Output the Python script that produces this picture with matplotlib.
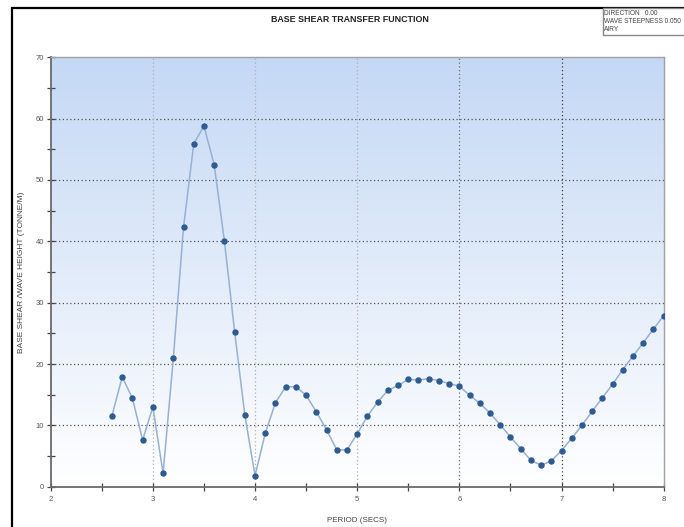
import numpy as np
import matplotlib
matplotlib.use("Agg")
import matplotlib.pyplot as plt
from matplotlib import font_manager
from matplotlib.patches import Rectangle
from matplotlib.colors import LinearSegmentedColormap

# ---- data ----
period = [2.6, 2.7, 2.8, 2.9, 3.0, 3.1, 3.2, 3.3, 3.4, 3.5, 3.6, 3.7, 3.8, 3.9,
          4.0, 4.1, 4.2, 4.3, 4.4, 4.5, 4.6, 4.7, 4.8, 4.9, 5.0, 5.1, 5.2, 5.3,
          5.4, 5.5, 5.6, 5.7, 5.8, 5.9, 6.0, 6.1, 6.2, 6.3, 6.4, 6.5, 6.6, 6.7,
          6.8, 6.9, 7.0, 7.1, 7.2, 7.3, 7.4, 7.5, 7.6, 7.7, 7.8, 7.9, 8.0]
base_shear = [11.6, 17.9, 14.4, 7.6, 13.0, 2.2, 20.9, 42.3, 55.9, 58.8, 52.5, 40.1,
              25.3, 11.7, 1.8, 8.7, 13.7, 16.3, 16.3, 14.9, 12.2, 9.3, 6.0, 6.0,
              8.6, 11.5, 13.8, 15.7, 16.5, 17.5, 17.4, 17.6, 17.3, 16.8, 16.4,
              14.9, 13.6, 12.0, 10.1, 8.1, 6.2, 4.3, 3.5, 4.2, 5.9, 7.9, 10.0,
              12.3, 14.5, 16.7, 19.1, 21.3, 23.5, 25.7, 27.9]
x_ticks = [2, 3, 4, 5, 6, 7, 8]
y_ticks = [0, 10, 20, 30, 40, 50, 60, 70]
title = "BASE SHEAR TRANSFER FUNCTION"
x_label = "PERIOD (SECS)"
y_label = "BASE SHEAR /WAVE HEIGHT (TONNE/M)"
legend_lines = ["DIRECTION   0.00", "WAVE STEEPNESS 0.050", "AIRY"]

# ---- fonts ----
names = {f.name for f in font_manager.fontManager.ttflist}
fam = "Liberation Sans Narrow" if "Liberation Sans Narrow" in names else "Liberation Sans"
plt.rcParams['font.family'] = [fam, 'DejaVu Sans']

W, H = 684, 527
fig = plt.figure(figsize=(W / 100, H / 100), dpi=100)
fig.patch.set_facecolor("white")

# outer black frame
fig.add_artist(Rectangle((11.5 / W, -0.05), 2.0, 1 - 8 / H + 0.05,
                         transform=fig.transFigure, fill=False,
                         edgecolor="black", linewidth=1.6))

ax = fig.add_axes([50.7 / W, 1 - 486.7 / H, (663.7 - 50.7) / W, (486.7 - 57.3) / H])
ax.set_xlim(2, 8)
ax.set_ylim(0, 70)

# gradient background
cmap = LinearSegmentedColormap.from_list("bg", ["#ffffff", "#c4d8f5"])
grad = np.linspace(0, 1, 256).reshape(-1, 1)
ax.imshow(grad, aspect="auto", cmap=cmap, origin="lower",
          extent=[2, 8, 0, 70], zorder=0)

# grid
for yv in y_ticks[1:-1]:
    ax.axhline(yv, color="#555555", linestyle=(0, (1, 2)), linewidth=0.9, zorder=1)
vcols = {3: "#b0b0b0", 4: "#b0b0b0", 5: "#b0b0b0", 6: "#707070", 7: "#404040"}
for xv, c in vcols.items():
    ax.axvline(xv, color=c, linestyle=(0, (1, 2)), linewidth=0.9, zorder=1)

# series
ax.plot(period, base_shear, color="#98b0d2", linewidth=1.1, zorder=3)
ax.plot(period, base_shear, linestyle="none", marker="o", markersize=3.6,
        markerfacecolor="#2e5b92", markeredgecolor="#2e5b92", zorder=4)

# spines
for s in ["left", "bottom"]:
    ax.spines[s].set_color("#6a6a6a")
    ax.spines[s].set_linewidth(1.3)
for s in ["top", "right"]:
    ax.spines[s].set_color("#a0a0a0")
    ax.spines[s].set_linewidth(1.0)

ax.set_xticks(x_ticks)
ax.set_yticks(y_ticks)
ax.set_xticks([2.5, 3.5, 4.5, 5.5, 6.5, 7.5], minor=True)
ax.set_yticks([5, 15, 25, 35, 45, 55, 65], minor=True)
ax.tick_params(which="major", direction="inout", length=6, width=0.9,
               color="#444444", labelsize=5.5, labelcolor="#555555", pad=2)
ax.tick_params(which="minor", direction="inout", length=6, width=0.9,
               color="#444444")
ax.tick_params(axis="x", which="major", pad=4)

fig.text(350 / W, 1 - 20 / H, title, ha="center", va="center",
         fontsize=6.4, fontweight="bold", color="#222222")
fig.text(357 / W, 1 - 520 / H, x_label, ha="center", va="center",
         fontsize=5.8, color="#444444")
fig.text(22 / W, 1 - 272 / H, y_label, ha="center", va="center",
         rotation=90, fontsize=6, color="#444444")

# legend box (top right)
fig.add_artist(Rectangle((602.5 / W, 1 - 35 / H), 0.2, 27 / H,
                         transform=fig.transFigure, facecolor="white",
                         edgecolor="#888888", linewidth=1.0))
for i, t in enumerate(legend_lines):
    fig.text(603.5 / W, 1 - (13.5 + i * 8.0) / H, t, ha="left", va="center",
             fontsize=4.7, color="#444444")

fig.savefig("out.png", dpi=100)
